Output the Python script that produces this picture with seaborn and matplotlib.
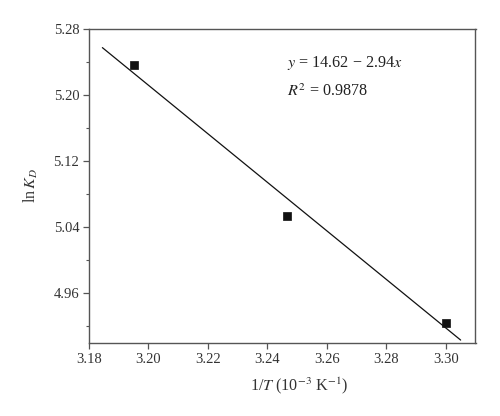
import numpy as np
import pandas as pd
import seaborn as sns
import matplotlib
matplotlib.use("Agg")
import matplotlib.pyplot as plt
from matplotlib.ticker import MultipleLocator

# Data
inv_T = [3.195, 3.2467, 3.300]
ln_KD = [5.236, 5.053, 4.924]

# Fit line (as shown in the annotation)
fit_intercept = 14.62
fit_slope = -2.94
fit_x = [3.1845, 3.305]

sns.set_theme(style="ticks")
plt.rcParams['font.family'] = ['Liberation Serif', 'DejaVu Serif']
plt.rcParams['mathtext.fontset'] = 'stix'

fig, ax = plt.subplots(figsize=(5.0, 4.16), dpi=100)
fig.subplots_adjust(left=0.178, right=0.951, top=0.930, bottom=0.176)

df = pd.DataFrame({"x": inv_T, "y": ln_KD})
sns.scatterplot(data=df, x="x", y="y", ax=ax, marker="s", s=26,
                color="#111111", edgecolor="#111111", linewidth=0.5, zorder=3)

line_df = pd.DataFrame({"x": fit_x,
                        "y": [fit_intercept + fit_slope * v for v in fit_x]})
sns.lineplot(data=line_df, x="x", y="y", ax=ax, color="#111111", linewidth=0.9)

ax.set_xlim(3.18, 3.31)
ax.set_ylim(4.90, 5.28)
ax.xaxis.set_major_locator(MultipleLocator(0.02))
ax.yaxis.set_minor_locator(MultipleLocator(0.04))
ax.set_yticks([4.96, 5.04, 5.12, 5.20, 5.28])
ax.xaxis.set_major_formatter(matplotlib.ticker.FormatStrFormatter('%.2f'))
ax.yaxis.set_major_formatter(matplotlib.ticker.FormatStrFormatter('%.2f'))

for s in ax.spines.values():
    s.set_visible(True)
    s.set_color("#555555")
    s.set_linewidth(1.0)

ax.tick_params(axis='both', which='major', direction='out', length=4,
               width=0.9, color="#555555", labelsize=10.5, labelcolor="#333333", pad=3)
ax.tick_params(axis='y', which='minor', direction='out', length=2.5,
               width=0.8, color="#555555")

ax.set_xlabel(r"1/$T$ (10$^{-3}$ K$^{-1}$)", fontsize=11.6, color="#333333")
ax.xaxis.set_label_coords(0.543, -0.103)
ax.set_ylabel(r"ln$\,K_D$", fontsize=11.5, color="#333333", labelpad=10)

ax.text(0.511, 0.892, r"$y$ = 14.62 − 2.94$x$", transform=ax.transAxes,
        fontsize=11.6, color="#222222", va='center', ha='left')
ax.text(0.511, 0.800, r"$R^2$ = 0.9878", transform=ax.transAxes,
        fontsize=11.6, color="#222222", va='center', ha='left')

fig.savefig("out.png", dpi=100)
